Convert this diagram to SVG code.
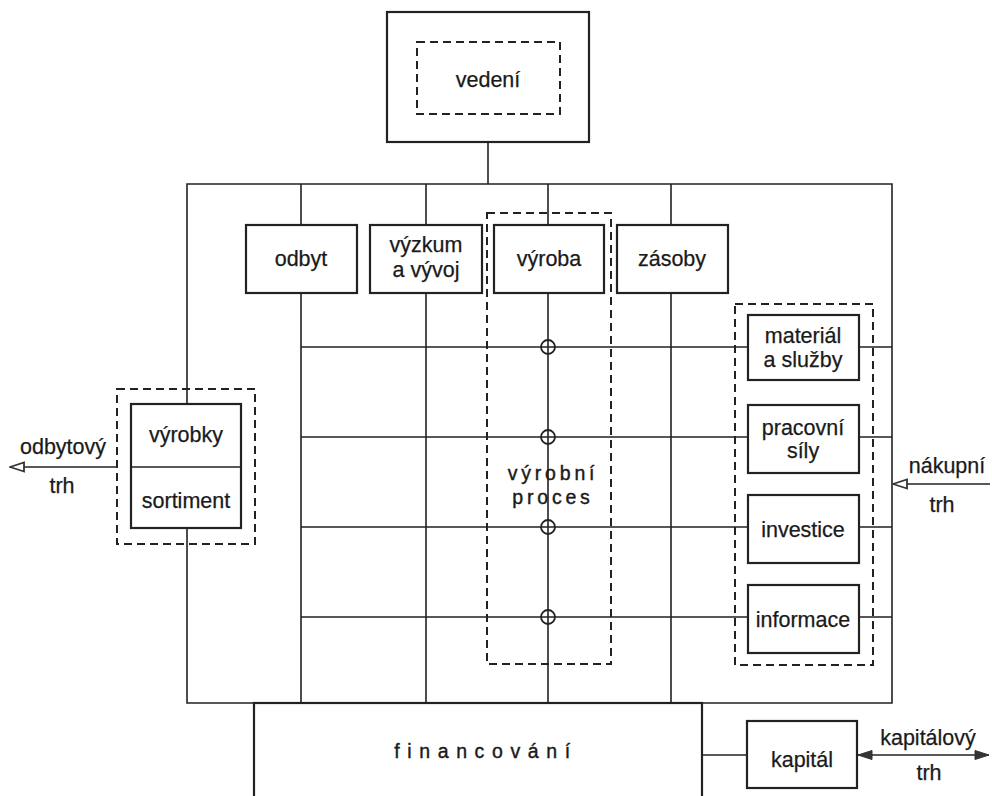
<svg xmlns="http://www.w3.org/2000/svg" width="992" height="796" viewBox="0 0 992 796">
  <style>
    .box { fill: #fff; stroke: #222; stroke-width: 2.2; }
    .dash { fill: none; stroke: #222; stroke-width: 2; stroke-dasharray: 8 5; }
    .ln { fill: none; stroke: #222; stroke-width: 1.6; }
    .node { fill: none; stroke: #222; stroke-width: 1.8; }
    text { font-family: "Liberation Sans", Arial, sans-serif; font-size: 21.5px; fill: #1a1a1a; text-anchor: middle; stroke: #1a1a1a; stroke-width: 0.25; }
    .spaced { font-size: 19.5px; letter-spacing: 3.8px; stroke-width: 0.4; }
    .wide { font-size: 19.5px; letter-spacing: 7.6px; stroke-width: 0.4; }
  </style>
  <defs>
    <!-- hollow arrowhead for the sales and purchase markets -->
    <marker id="open" viewBox="0 0 16 12" refX="15" refY="6" markerWidth="16" markerHeight="12" markerUnits="userSpaceOnUse" orient="auto-start-reverse">
      <path d="M1,1.5 L15,6 L1,10.5 Z" fill="#fff" stroke="#333" stroke-width="1.8"/>
    </marker>
    <!-- solid arrowhead for the capital market -->
    <marker id="solid" viewBox="0 0 16 12" refX="15" refY="6" markerWidth="16" markerHeight="12" markerUnits="userSpaceOnUse" orient="auto-start-reverse">
      <path d="M1,1.5 L15,6 L1,10.5 Z" fill="#333" stroke="#333" stroke-width="1"/>
    </marker>
  </defs>
  <rect width="992" height="796" fill="#fff"/>

  <!-- connectors -->
  <g id="connectors">
    <!-- management to frame -->
    <path class="ln" d="M488,142 V184"/>
    <!-- outer frame -->
    <path class="ln" d="M187,404 V184 H892 V703 H702"/>
    <path class="ln" d="M187,528 V703 H254"/>
    <!-- department columns -->
    <path class="ln" d="M301,184 V225 M301,293 V703"/>
    <path class="ln" d="M426,184 V225 M426,293 V703"/>
    <path class="ln" d="M548,184 V225 M548,293 V703"/>
    <path class="ln" d="M671,184 V225 M671,293 V703"/>
    <!-- resource rows -->
    <path class="ln" d="M301,347 H748 M859,347 H892"/>
    <path class="ln" d="M301,437 H748 M859,437 H892"/>
    <path class="ln" d="M301,527 H748 M859,527 H892"/>
    <path class="ln" d="M301,617 H748 M859,617 H892"/>
    <!-- production nodes -->
    <circle class="node" cx="548" cy="347" r="7"/>
    <circle class="node" cx="548" cy="437" r="7"/>
    <circle class="node" cx="548" cy="527" r="7"/>
    <circle class="node" cx="548" cy="617" r="7"/>
    <!-- financing to capital -->
    <path class="ln" d="M702,755 H747"/>
    <!-- markets -->
    <path class="ln" d="M117,467 H10" marker-end="url(#open)"/>
    <path class="ln" d="M990,484 H893" marker-end="url(#open)"/>
    <path class="ln" d="M858,755 H989" marker-start="url(#solid)" marker-end="url(#solid)"/>
  </g>

  <g id="vedeni">
    <rect class="box" x="387" y="12" width="202" height="130"/>
    <rect class="dash" x="417" y="42" width="143" height="72"/>
    <text x="488" y="87">vedení</text>
  </g>

  <g id="odbyt">
    <rect class="box" x="246" y="225" width="111" height="68"/>
    <text x="301" y="266">odbyt</text>
  </g>
  <g id="vyzkum">
    <rect class="box" x="370" y="225" width="112" height="68"/>
    <text x="426" y="252">výzkum</text>
    <text x="426" y="277">a vývoj</text>
  </g>
  <g id="vyroba">
    <rect class="box" x="494" y="225" width="110" height="68"/>
    <text x="549" y="266">výroba</text>
  </g>
  <g id="zasoby">
    <rect class="box" x="617" y="225" width="111" height="68"/>
    <text x="672" y="266">zásoby</text>
  </g>

  <g id="vyrobni-proces">
    <rect class="dash" x="487" y="213" width="124" height="451"/>
    <text class="spaced" x="553" y="480">výrobní</text>
    <text class="spaced" x="553" y="504">proces</text>
  </g>

  <g id="vstupy">
    <rect class="dash" x="735" y="304" width="138" height="361"/>
  </g>
  <g id="material">
    <rect class="box" x="748" y="315" width="111" height="65"/>
    <text x="803" y="343">materiál</text>
    <text x="803" y="367">a služby</text>
  </g>
  <g id="pracovni-sily">
    <rect class="box" x="748" y="405" width="111" height="68"/>
    <text x="803" y="435">pracovní</text>
    <text x="803" y="458">síly</text>
  </g>
  <g id="investice">
    <rect class="box" x="748" y="495" width="111" height="68"/>
    <text x="803" y="537">investice</text>
  </g>
  <g id="informace">
    <rect class="box" x="748" y="585" width="111" height="68"/>
    <text x="803" y="627">informace</text>
  </g>

  <g id="vyrobky">
    <rect class="dash" x="117" y="389" width="138" height="155"/>
    <rect class="box" x="131" y="404" width="110" height="124"/>
    <path class="ln" d="M131,467 H241"/>
    <text x="186" y="442">výrobky</text>
    <text x="186" y="508">sortiment</text>
  </g>

  <g id="financovani">
    <rect class="box" x="254" y="703" width="448" height="100"/>
    <text class="wide" x="486" y="758">financování</text>
  </g>

  <g id="kapital">
    <rect class="box" x="747" y="721" width="110" height="67"/>
    <text x="802" y="767">kapitál</text>
  </g>

  <g id="trhy">
    <text x="63" y="454">odbytový</text>
    <text x="62" y="493">trh</text>
    <text x="947" y="473">nákupní</text>
    <text x="942" y="512">trh</text>
    <text x="928" y="745">kapitálový</text>
    <text x="929" y="780">trh</text>
  </g>
</svg>
